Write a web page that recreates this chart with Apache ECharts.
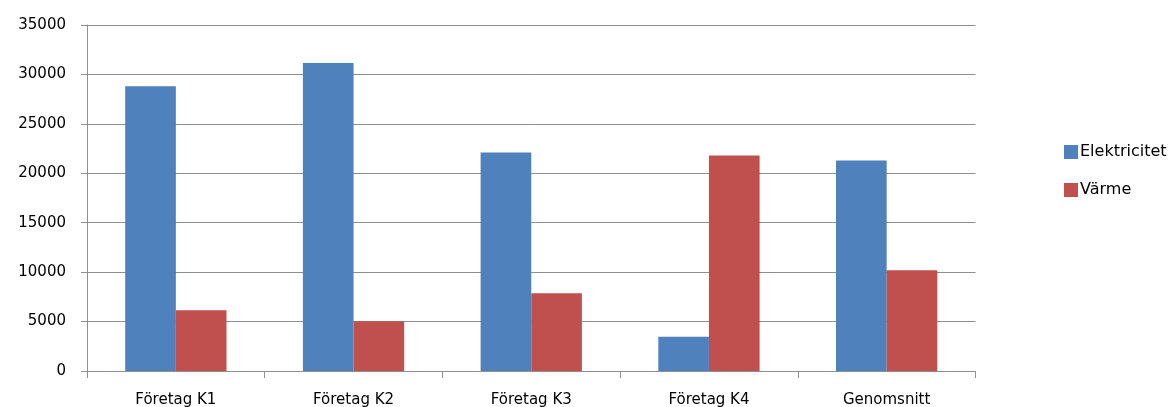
<!DOCTYPE html>
<html>
<head>
<meta charset="utf-8">
<script src="https://cdn.jsdelivr.net/npm/echarts@6/dist/echarts.min.js"></script>
<style>
  html, body { margin: 0; padding: 0; background: #ffffff; }
  #chart { width: 1168px; height: 407px; }
</style>
</head>
<body>
<div id="chart"></div>
<script>
// Energianvändning per företag
const categories = ['Företag K1', 'Företag K2', 'Företag K3', 'Företag K4', 'Genomsnitt'];
const elektricitet = [28800, 31150, 22100, 3470, 21300];
const varme = [6150, 5030, 7860, 21800, 10200];
const yTicks = { min: 0, max: 35000, interval: 5000 };

const FONT = 'DejaVu Sans';
const GRAY = '#8f8f8f';

const chart = echarts.init(document.getElementById('chart'), null, { renderer: 'canvas' });

chart.setOption({
  animation: false,
  backgroundColor: '#ffffff',
  textStyle: { fontFamily: FONT },
  grid: {
    left: 87, right: 192.5, top: 25, bottom: 36,
    containLabel: false,
    outerBoundsMode: 'none'
  },
  legend: {
    orient: 'vertical',
    left: 1059,
    top: 139,
    itemWidth: 14,
    itemHeight: 14,
    itemGap: 22,
    icon: 'rect',
    textStyle: { fontFamily: FONT, fontSize: 16, color: '#000', padding: [0, 0, 0, -3] },
    data: ['Elektricitet', 'Värme']
  },
  xAxis: {
    type: 'category',
    data: categories,
    boundaryGap: true,
    axisLine: { show: true, lineStyle: { color: GRAY, width: 1 } },
    axisTick: { show: true, length: 7, alignWithLabel: false, lineStyle: { color: GRAY } },
    axisLabel: { margin: 22, fontFamily: FONT, fontSize: 15, color: '#000' },
    splitLine: { show: false }
  },
  yAxis: {
    type: 'value',
    min: yTicks.min,
    max: yTicks.max,
    interval: yTicks.interval,
    axisLine: { show: true, lineStyle: { color: GRAY, width: 1 } },
    axisTick: { show: true, length: 6, lineStyle: { color: GRAY } },
    axisLabel: {
      margin: 21,
      fontFamily: FONT,
      fontSize: 15,
      color: '#000',
      formatter: (v) => String(v)
    },
    splitLine: { show: true, lineStyle: { color: GRAY, width: 1 } }
  },
  series: [
    {
      name: 'Elektricitet',
      type: 'bar',
      data: elektricitet,
      barGap: '0%',
      barCategoryGap: '43%',
      itemStyle: { color: '#4F81BD' }
    },
    {
      name: 'Värme',
      type: 'bar',
      data: varme,
      barGap: '0%',
      barCategoryGap: '43%',
      itemStyle: { color: '#C0504D' }
    }
  ]
});
</script>
</body>
</html>
